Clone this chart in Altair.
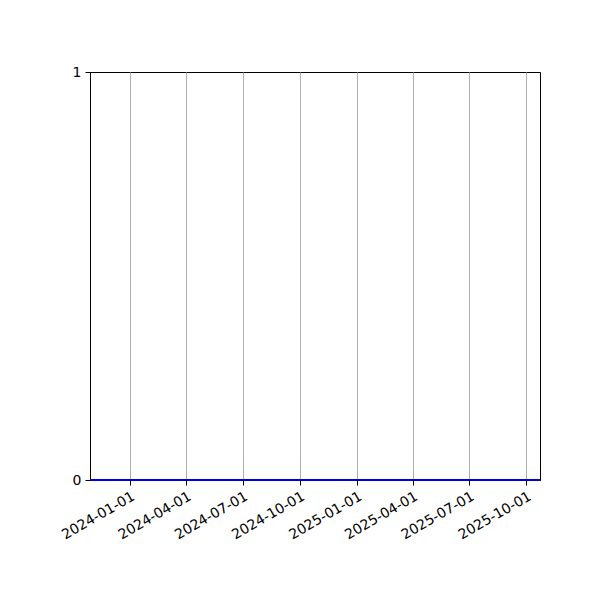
import altair as alt
import pandas as pd

# data: a flat series at zero over the date range
dates = ["2023-10-29", "2025-10-23"]
values = [0, 0]
tick_dates = ["2024-01-01", "2024-04-01", "2024-07-01", "2024-10-01",
              "2025-01-01", "2025-04-01", "2025-07-01", "2025-10-01"]
y_ticks = [0, 1]

df = pd.DataFrame({"date": dates, "value": values})


def dt(s):
    y, m, d = (int(p) for p in s.split("-"))
    return alt.DateTime(year=y, month=m, date=d, utc=True)


x_enc = alt.X(
    "date:T",
    scale=alt.Scale(type="utc", domain=[dt(dates[0]), dt(dates[-1])], nice=False),
    axis=alt.Axis(
        values=[dt(s) for s in tick_dates],
        labelExpr="utcFormat(datum.value, '%Y-%m-%d')",
        labelAngle=-30,
        labelAlign="right",
        labelBaseline="top",
        labelFont="DejaVu Sans",
        labelFontSize=14,
        labelColor="black",
        labelPadding=4,
        labelOverlap=False,
        labelFlush=False,
        tickColor="black",
        tickSize=5,
        tickWidth=1,
        domainColor="black",
        domainWidth=1,
        grid=True,
        gridColor="#b0b0b0",
        gridWidth=1,
        title=None,
    ),
)

y_enc = alt.Y(
    "value:Q",
    scale=alt.Scale(domain=[0, 1], nice=False, zero=False),
    axis=alt.Axis(
        values=y_ticks,
        format="d",
        labelFont="DejaVu Sans",
        labelFontSize=14,
        labelColor="black",
        labelPadding=4,
        tickColor="black",
        tickSize=5,
        tickWidth=1,
        domainColor="black",
        domainWidth=1,
        grid=False,
        title=None,
    ),
)

chart = (
    alt.Chart(df)
    .mark_line(color="#0000dd", strokeWidth=2, clip=False)
    .encode(x=x_enc, y=y_enc)
    .properties(
        width=450,
        height=408,
        background="white",
        autosize=alt.AutoSizeParams(type="none"),
        padding={"left": 82, "top": 64, "right": 52, "bottom": 112},
    )
    .configure_view(stroke="black", strokeWidth=1)
)

chart.save("out.html", embed_options={"renderer": "svg", "actions": False})
